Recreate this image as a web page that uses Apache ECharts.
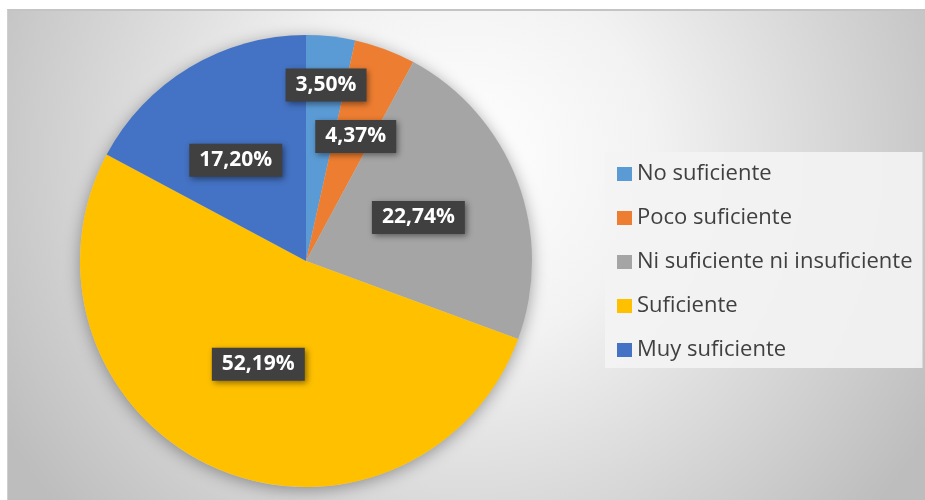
<!DOCTYPE html>
<html>
<head>
<meta charset="utf-8">
<script src="https://cdn.jsdelivr.net/npm/echarts@6/dist/echarts.min.js"></script>
<style>
  html, body { margin: 0; padding: 0; background: #fff; }
  #chart {
    position: absolute;
    left: 7px;
    top: 9px;
    width: 918px;
    height: 491px;
    box-sizing: border-box;
    border-top: 2px solid #c4c4c4;
    border-left: 1px solid #cfcfcf;
  }
</style>
</head>
<body>
<div id="chart"></div>
<script>
  // categories and shares (percent)
  var categories = ['No suficiente', 'Poco suficiente', 'Ni suficiente ni insuficiente', 'Suficiente', 'Muy suficiente'];
  var values = [3.50, 4.37, 22.74, 52.19, 17.20];
  var colors = ['#5B9BD5', '#ED7D31', '#A5A5A5', '#FFC000', '#4472C4'];
  // where each data label box sits: direction (deg, clockwise from top) and fraction of radius
  var labelAngle = [6.5, 21.8, 68.8, 204.8, 325];
  var labelRadius = [0.77, 0.58, 0.52, 0.49, 0.53];

  var R = 226;
  var total = values.reduce(function (a, b) { return a + b; }, 0);
  var midAngles = [];
  var cum = 0;
  values.forEach(function (v) {
    midAngles.push(2 * Math.PI * (cum + v / 2) / total);
    cum += v;
  });

  var pieData = categories.map(function (name, i) {
    return { name: name, value: values[i], itemStyle: { color: colors[i] } };
  });

  var myChart = echarts.init(document.getElementById('chart'));
  var option = {
    animation: false,
    backgroundColor: {
      type: 'radial',
      x: 0.5,
      y: 0.3,
      r: 1.1,
      colorStops: [
        { offset: 0, color: '#ffffff' },
        { offset: 0.35, color: '#f2f2f2' },
        { offset: 1, color: '#bdbdbd' }
      ]
    },
    legend: {
      orient: 'vertical',
      left: 597,
      top: 141,
      data: categories,
      backgroundColor: 'rgba(243,243,243,0.92)',
      padding: [10, 10, 6, 12],
      itemWidth: 15,
      itemHeight: 14,
      itemGap: 20,
      icon: 'rect',
      textStyle: {
        fontFamily: 'Open Sans',
        fontSize: 22,
        lineHeight: 24,
        color: '#404040'
      }
    },
    series: [
      {
        // shadow under the whole pie
        type: 'pie',
        silent: true,
        center: [298, 250],
        radius: [0, R],
        z: 1,
        label: { show: false },
        labelLine: { show: false },
        itemStyle: {
          color: '#d0d0d0',
          shadowBlur: 16,
          shadowColor: 'rgba(0,0,0,0.35)',
          shadowOffsetY: 3
        },
        data: [{ name: '', value: 1 }]
      },
      {
        name: 'Respuestas',
        type: 'pie',
        center: [298, 250],
        radius: [0, R],
        startAngle: 90,
        clockwise: true,
        z: 2,
        itemStyle: { borderWidth: 0 },
        label: {
          show: true,
          position: 'inside',
          formatter: function (p) {
            return p.value.toFixed(2).replace('.', ',') + '%';
          },
          fontFamily: 'Open Sans',
          fontWeight: 'bold',
          fontSize: 21,
          lineHeight: 21,
          color: '#ffffff',
          backgroundColor: '#404040',
          padding: [6, 10, 6, 10],
          shadowColor: 'rgba(0,0,0,0.45)',
          shadowBlur: 6,
          shadowOffsetX: 2,
          shadowOffsetY: 2
        },
        labelLayout: function (params) {
          var i = params.dataIndex;
          var a0 = midAngles[i];
          var a1 = labelAngle[i] * Math.PI / 180;
          var r1 = labelRadius[i] * R;
          var r0 = 0.5 * R;
          return {
            dx: r1 * Math.sin(a1) - r0 * Math.sin(a0),
            dy: -r1 * Math.cos(a1) + r0 * Math.cos(a0)
          };
        },
        emphasis: { scale: false },
        data: pieData
      }
    ]
  };
  myChart.setOption(option);
</script>
</body>
</html>
